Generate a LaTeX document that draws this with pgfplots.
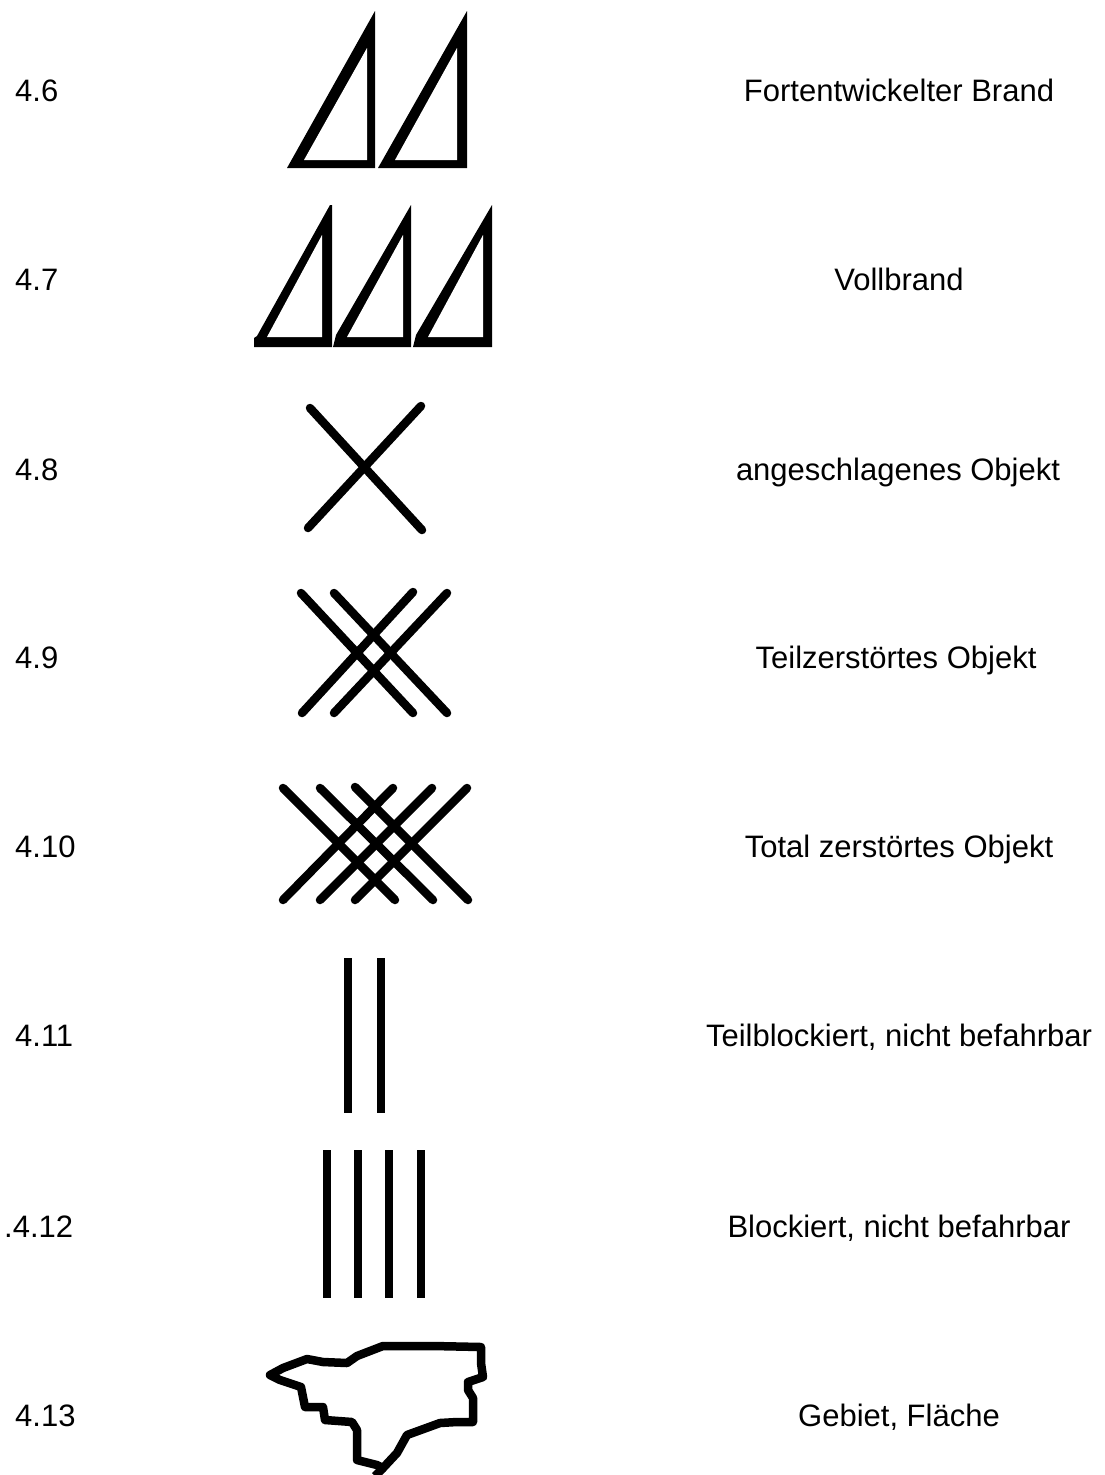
\documentclass[border=0pt]{standalone}
\usepackage{fontspec}
\setmainfont{Liberation Sans}
\usepackage{pgfplots}
\pgfplotsset{compat=1.18}
\tikzset{
  lab/.style={font=\fontsize{31}{37}\selectfont, text=black, inner sep=0pt, anchor=base west},
  rt/.style={font=\fontsize{31}{37}\selectfont, text=black, inner sep=0pt, anchor=base},
  tri/.style={fill=black, draw=none},
  hole/.style={fill=white, draw=none},
  st/.style={black, line width=8.5pt, line cap=round},
  bar/.style={black, line width=8pt, line cap=butt},
}
\begin{document}
\begin{tikzpicture}
\begin{axis}[
  hide axis, scale only axis, width=1104pt, height=1475pt,
  xmin=0, xmax=1104, ymin=0, ymax=1475, y dir=reverse,
  no markers,
]
\addplot[draw=none] coordinates {(0,0)(1104,1475)};
% 4.6
\addplot[tri] coordinates {(287,168)(375,11)(375,168)} -- cycle;
\addplot[hole] coordinates {(304,160)(367,48)(367,160)} -- cycle;
\addplot[tri] coordinates {(378,168)(467,11)(467,168)} -- cycle;
\addplot[hole] coordinates {(395,160)(457,48)(457,160)} -- cycle;
% 4.7
\addplot[tri] coordinates {(254,347)(254,338)(257,336)(330,205)(332,205)(332,347)} -- cycle;
\addplot[hole] coordinates {(267,337)(322,235)(322,337)} -- cycle;
\addplot[tri] coordinates {(333,347)(336,335)(411,205)(411,347)} -- cycle;
\addplot[hole] coordinates {(347,337)(403,235)(403,337)} -- cycle;
\addplot[tri] coordinates {(413,347)(416,335)(492,205)(492,347)} -- cycle;
\addplot[hole] coordinates {(428,337)(483,235)(483,337)} -- cycle;
% 4.8
\addplot[st] coordinates {(310,408)(422,530)};
\addplot[st] coordinates {(421,406)(308,528)};
% 4.9
\addplot[st] coordinates {(301,593)(413,713)};
\addplot[st] coordinates {(334,593)(447,713)};
\addplot[st] coordinates {(413,592)(302,713)};
\addplot[st] coordinates {(447,593)(334,713)};
% 4.10
\addplot[st] coordinates {(283,788)(395,900)};
\addplot[st] coordinates {(320,788)(433,900)};
\addplot[st] coordinates {(355,787)(468,900)};
\addplot[st] coordinates {(393,788)(283,900)};
\addplot[st] coordinates {(432,788)(320,900)};
\addplot[st] coordinates {(467,788)(355,900)};
% 4.11
\addplot[bar] coordinates {(348,958)(348,1113)};
\addplot[bar] coordinates {(381,958)(381,1113)};
% 4.12
\addplot[bar] coordinates {(327,1150)(327,1298)};
\addplot[bar] coordinates {(358,1150)(358,1298)};
\addplot[bar] coordinates {(389,1150)(389,1298)};
\addplot[bar] coordinates {(421,1150)(421,1298)};
% 4.13
\addplot[black, line width=8.5pt, line join=round] coordinates {
(270,1375)(283,1368)(307,1359)(323,1362)(347,1363)(357,1356)(383,1346)(433,1346)
(481,1347)(481,1363)(483,1377)(468,1382)(468,1390)(473,1398)(473,1422)(457,1422)
(440,1423)(407,1435)(397,1453)(383,1468)(377,1465)(357,1460)(357,1443)(357,1430)
(352,1422)(325,1420)(323,1407)(305,1407)(301,1387)(280,1380)} -- cycle;
\addplot[black, line width=8.5pt] coordinates {(383,1468)(375,1476)};
% labels
\node[lab] at (axis cs:15,101) {4.6};
\node[lab] at (axis cs:15,290) {4.7};
\node[lab] at (axis cs:15,480) {4.8};
\node[lab] at (axis cs:15,668) {4.9};
\node[lab] at (axis cs:15,857) {4.10};
\node[lab] at (axis cs:15,1046) {4.11};
\node[lab] at (axis cs:4,1237) {.4.12};
\node[lab] at (axis cs:15,1426) {4.13};
\node[rt] at (axis cs:899,101) {Fortentwickelter Brand};
\node[rt] at (axis cs:899,290) {Vollbrand};
\node[rt] at (axis cs:898,480) {angeschlagenes Objekt};
\node[rt] at (axis cs:896,668) {Teilzerstörtes Objekt};
\node[rt] at (axis cs:899,857) {Total zerstörtes Objekt};
\node[rt] at (axis cs:899,1046) {Teilblockiert, nicht befahrbar};
\node[rt] at (axis cs:899,1237) {Blockiert, nicht befahrbar};
\node[rt] at (axis cs:899,1426) {Gebiet, Fläche};
\end{axis}
\end{tikzpicture}
\end{document}
